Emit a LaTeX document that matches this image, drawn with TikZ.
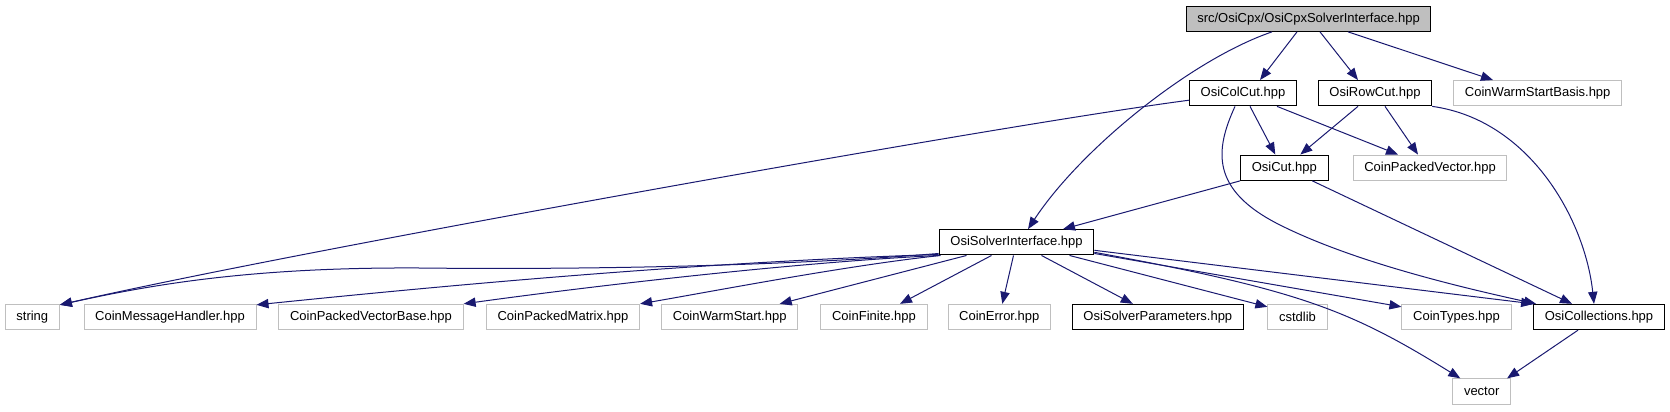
\documentclass[tikz,border=0pt]{standalone}
\usepackage{fontspec}
\setmainfont{Liberation Sans}
\usetikzlibrary{arrows.meta,calc}
\definecolor{edgeblue}{HTML}{191970}
\definecolor{boxgrey}{HTML}{BFBFBF}
\begin{document}
\begin{tikzpicture}[x=0.75pt,y=-0.75pt,
    file/.style={draw,line width=0.75pt,inner xsep=8.4pt,inner ysep=0pt,minimum height=19pt,font=\fontsize{9.75}{11}\selectfont},
    docfile/.style={file,draw=black},
    extfile/.style={file,draw=boxgrey},
    rootfile/.style={file,draw=black,fill=boxgrey},
    dep/.style={draw=edgeblue,line width=0.75pt,-{Triangle[length=9pt,width=7pt]}}]
  \useasboundingbox (0,0) rectangle (1670,411);
  % Files, row by row
  \node[rootfile] (top) at (1308.5,18.7) {src/OsiCpx/OsiCpxSolverInterface.hpp};
  \node[docfile] (colcut) at (1243,93.2) {OsiColCut.hpp};
  \node[docfile] (rowcut) at (1375,93.2) {OsiRowCut.hpp};
  \node[extfile] (wsbasis) at (1537.7,93.2) {CoinWarmStartBasis.hpp};
  \node[docfile] (osicut) at (1284.3,167.7) {OsiCut.hpp};
  \node[extfile] (cpv) at (1430,167.7) {CoinPackedVector.hpp};
  \node[docfile] (osi) at (1016.5,242.3) {OsiSolverInterface.hpp};
  \node[extfile] (string) at (32.3,317) {string};
  \node[extfile] (msghandler) at (170,317) {CoinMessageHandler.hpp};
  \node[extfile] (cpvbase) at (371,317) {CoinPackedVectorBase.hpp};
  \node[extfile] (cpmatrix) at (563,317) {CoinPackedMatrix.hpp};
  \node[extfile] (warmstart) at (729.7,317) {CoinWarmStart.hpp};
  \node[extfile] (finite) at (874,317) {CoinFinite.hpp};
  \node[extfile] (error) at (999.3,317) {CoinError.hpp};
  \node[docfile] (params) at (1157.8,317) {OsiSolverParameters.hpp};
  \node[extfile] (cstdlib) at (1297.5,317) {cstdlib};
  \node[extfile] (types) at (1456.5,317) {CoinTypes.hpp};
  \node[docfile] (collections) at (1599,317) {OsiCollections.hpp};
  \node[extfile] (vector) at (1481.7,391.5) {vector};
  % Includes of the root file
  \draw[dep] ($(top.south)+(-36.5,0)$) .. controls (1190,60) and (1080,150) .. ($(osi.north)+(11.5,0)$);
  \draw[dep] ($(top.south)+(-11.5,0)$) -- ($(colcut.north)+(17,0)$);
  \draw[dep] ($(top.south)+(11.5,0)$) -- ($(rowcut.north)+(-17,0)$);
  \draw[dep] ($(top.south)+(39.5,0)$) -- ($(wsbasis.north)+(-44.7,0)$);
  % OsiColCut.hpp
  \draw[dep] ($(colcut.west)+(0,7)$) .. controls (1000,125) and (300,250) .. ($(string.north east)+(0,1)$);
  \draw[dep] ($(colcut.south)+(7,0)$) -- ($(osicut.north)+(-9,0)$);
  \draw[dep] ($(colcut.south)+(34,0)$) -- ($(cpv.north)+(-32,0)$);
  \draw[dep] ($(colcut.south)+(-8,0)$) .. controls (1215,150) and (1210,190) .. (1280,225)
    .. controls (1350,260) and (1450,285) .. ($(collections.north west)+(3,0)$);
  % OsiRowCut.hpp
  \draw[dep] ($(rowcut.south)+(-17,0)$) -- ($(osicut.north)+(16,0)$);
  \draw[dep] ($(rowcut.south)+(10,0)$) -- ($(cpv.north)+(-12,0)$);
  \draw[dep] (rowcut.south east) .. controls (1530,120) and (1585,220) .. ($(collections.north)+(-5,0)$);
  % OsiCut.hpp
  \draw[dep] (osicut.south west) -- ($(osi.north)+(46.5,0)$);
  \draw[dep] ($(osicut.south)+(28,0)$) -- ($(collections.north)+(-27,0)$);
  % OsiSolverInterface.hpp
  \draw[dep] ($(osi.south west)+(0,-2)$) .. controls (800,265) and (600,270) .. (420,268)
    .. controls (250,267) and (150,285) .. ($(string.north east)+(0,1)$);
  \draw[dep] ($(osi.south west)+(0,-1)$) .. controls (700,262) and (450,285) .. ($(msghandler.north east)+(0,1)$);
  \draw[dep] (osi.south west) .. controls (800,262) and (600,285) .. (cpvbase.north east);
  \draw[dep] ($(osi.south west)+(2,0)$) .. controls (850,265) and (720,290) .. (cpmatrix.north east);
  \draw[dep] ($(osi.south)+(-50,0)$) -- ($(warmstart.north)+(50,0)$);
  \draw[dep] ($(osi.south)+(-25,0)$) -- ($(finite.north)+(26,0)$);
  \draw[dep] ($(osi.south)+(-3,0)$) -- ($(error.north)+(3,0)$);
  \draw[dep] ($(osi.south)+(25,0)$) -- ($(params.north)+(-25,0)$);
  \draw[dep] ($(osi.south)+(53,0)$) -- ($(cstdlib.north west)+(0,3)$);
  \draw[dep] ($(osi.south east)+(0,-2)$) -- ($(types.north west)+(0,3)$);
  \draw[dep] ($(osi.east)+(0,8)$) -- (collections.north west);
  \draw[dep] ($(osi.east)+(0,10)$) .. controls (1300,290) and (1350,310) .. ($(vector.north west)+(8,0)$);
  % OsiCollections.hpp
  \draw[dep] ($(collections.south)+(-21,0)$) -- ($(vector.north east)+(-4,0)$);
\end{tikzpicture}
\end{document}
